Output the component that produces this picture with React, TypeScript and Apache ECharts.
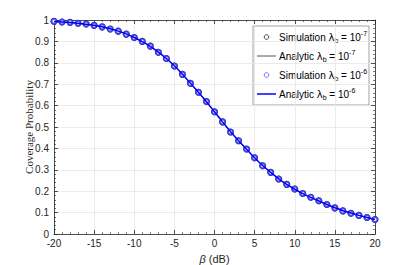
import React, { useEffect, useRef } from "react";
import * as echarts from "echarts";

const betaDb: number[] = [
  -20, -19, -18, -17, -16, -15, -14, -13, -12, -11, -10, -9, -8, -7, -6, -5, -4, -3, -2, -1,
  0, 1, 2, 3, 4, 5, 6, 7, 8, 9, 10, 11, 12, 13, 14, 15, 16, 17, 18, 19, 20,
];

const analyticLow: number[] = [
  0.993, 0.991, 0.988, 0.985, 0.98, 0.975, 0.968, 0.959, 0.948, 0.935, 0.918, 0.899, 0.877, 0.85, 0.82,
  0.786, 0.747, 0.705, 0.662, 0.618, 0.571, 0.524, 0.478, 0.436, 0.396, 0.356, 0.32, 0.288, 0.258, 0.232,
  0.209, 0.189, 0.171, 0.154, 0.138, 0.123, 0.109, 0.098, 0.087, 0.077, 0.068,
];
const analyticHigh: number[] = [...analyticLow];
const simLow: number[] = [
  0.994, 0.991, 0.989, 0.985, 0.981, 0.975, 0.968, 0.958, 0.948, 0.934, 0.918, 0.9, 0.878, 0.849, 0.82,
  0.785, 0.746, 0.704, 0.662, 0.619, 0.571, 0.524, 0.477, 0.436, 0.397, 0.356, 0.319, 0.288, 0.257, 0.232,
  0.21, 0.189, 0.172, 0.155, 0.138, 0.122, 0.108, 0.097, 0.087, 0.077, 0.068,
];
const simHigh: number[] = [...simLow];

const seriesNames: string[] = [
  "Simulation λb = 10^-7",
  "Analytic λb = 10^-7",
  "Simulation λb = 10^-6",
  "Analytic λb = 10^-6",
];
const legendRich: string[] = [
  "{t|Simulation }{l|λ}{s|b}{t| = 10}{p|-7}",
  "{t|Analytic }{l|λ}{s|b}{t| = 10}{p|-7}",
  "{t|Simulation }{l|λ}{s|b}{t| = 10}{p|-6}",
  "{t|Analytic }{l|λ}{s|b}{t| = 10}{p|-6}",
];

const xTitle = "{i|β} (dB)";
const yTitle = "Coverage Probability";

const pairs = (ys: number[]) => betaDb.map((x, i) => [x, ys[i]]);

export default function App() {
  const ref = useRef<HTMLDivElement>(null);
  useEffect(() => {
    if (!ref.current) return;
    const chart = echarts.init(ref.current, undefined, { renderer: "svg" });
    const axisColor = "#262626";
    const sans = "Liberation Sans, Arial, sans-serif";
    const labelFont = { fontFamily: sans, fontSize: 10, color: axisColor };
    const tickCommon = {
      axisLine: { show: true, onZero: false, lineStyle: { color: axisColor, width: 0.8 } },
      axisTick: { show: true, inside: true, length: 4, lineStyle: { color: axisColor, width: 0.8 } },
      minorTick: { show: true, splitNumber: 5, length: 2, lineStyle: { color: axisColor, width: 0.6 } },
    };
    const rich = {
      t: { fontSize: 10, lineHeight: 14, fontFamily: sans, fill: "#000", color: "#000" },
      l: { fontSize: 10, lineHeight: 14, fontFamily: "DejaVu Sans, sans-serif", fill: "#000", color: "#000" },
      s: { fontSize: 7, lineHeight: 7, verticalAlign: "bottom", fontFamily: sans, fill: "#000", color: "#000" },
      p: { fontSize: 7, lineHeight: 7, verticalAlign: "top", fontFamily: sans, fill: "#000", color: "#000" },
    };
    const lx = 253, ly = 26, lw = 116, lh = 79;
    const rowY = [37, 56, 75, 94];
    const legendChildren: any[] = [
      { type: "rect", shape: { x: lx, y: ly, width: lw, height: lh }, style: { fill: "#fff", stroke: "#8c8c8c", lineWidth: 0.8 } },
      { type: "circle", shape: { cx: 266.5, cy: rowY[0], r: 2.3 }, style: { fill: "none", stroke: "#000", lineWidth: 0.7 } },
      { type: "line", shape: { x1: 257, y1: rowY[1], x2: 276, y2: rowY[1] }, style: { stroke: "#555", lineWidth: 1 } },
      { type: "circle", shape: { cx: 266.5, cy: rowY[2], r: 2.3 }, style: { fill: "none", stroke: "#3a3aff", lineWidth: 0.7 } },
      { type: "line", shape: { x1: 257, y1: rowY[3], x2: 276, y2: rowY[3] }, style: { stroke: "#0000ff", lineWidth: 1.5 } },
    ];
    legendRich.forEach((txt, i) => {
      legendChildren.push({
        type: "text",
        style: { x: 279, y: rowY[i], text: txt, rich, verticalAlign: "middle", align: "left", font: "10px " + sans },
      });
    });
    chart.setOption({
      animation: false,
      backgroundColor: "#ffffff",
      grid: { left: 54, right: 40, top: 20, bottom: 31, containLabel: false, outerBoundsMode: "none" },
      legend: { show: false, data: seriesNames },
      graphic: [{ type: "group", z: 100, children: legendChildren }],
      xAxis: [
        {
          type: "value",
          min: -20,
          max: 20,
          interval: 5,
          position: "bottom",
          name: xTitle,
          nameLocation: "middle",
          nameGap: 19,
          nameMoveOverlap: false,
          nameTextStyle: {
            fontFamily: sans,
            fontSize: 11,
            color: axisColor,
            rich: {
              i: { fontStyle: "italic", fontSize: 11, fontFamily: sans, color: axisColor },
            },
          },
          axisLabel: { ...labelFont, margin: 4 },
          splitLine: { show: true, lineStyle: { color: "#e6e6e6", width: 0.8 } },
          ...tickCommon,
        },
        {
          type: "value",
          min: -20,
          max: 20,
          interval: 5,
          position: "top",
          axisLabel: { show: false },
          splitLine: { show: false },
          ...tickCommon,
        },
      ],
      yAxis: [
        {
          type: "value",
          min: 0,
          max: 1,
          interval: 0.1,
          position: "left",
          name: yTitle,
          nameLocation: "middle",
          nameGap: 20,
          nameMoveOverlap: false,
          nameTextStyle: { fontFamily: "Liberation Serif, Times New Roman, serif", fontSize: 11, color: axisColor },
          axisLabel: { ...labelFont, margin: 5, formatter: (v: number) => String(Math.round(v * 10) / 10) },
          splitLine: { show: true, lineStyle: { color: "#e6e6e6", width: 0.8 } },
          ...tickCommon,
        },
        {
          type: "value",
          min: 0,
          max: 1,
          interval: 0.1,
          position: "right",
          axisLabel: { show: false },
          splitLine: { show: false },
          ...tickCommon,
        },
      ],
      series: [
        {
          name: seriesNames[0],
          type: "scatter",
          data: pairs(simLow),
          symbol: "emptyCircle",
          symbolSize: 5,
          itemStyle: { color: "#000000", borderColor: "#000000", borderWidth: 0.7 },
          z: 2,
        },
        {
          name: seriesNames[1],
          type: "line",
          data: pairs(analyticLow),
          symbol: "none",
          smooth: 0.3,
          lineStyle: { color: "#555555", width: 1 },
          z: 3,
        },
        {
          name: seriesNames[2],
          type: "scatter",
          data: pairs(simHigh),
          symbol: "emptyCircle",
          symbolSize: 5,
          itemStyle: { color: "#3a3aff", borderColor: "#3a3aff", borderWidth: 0.7 },
          z: 4,
        },
        {
          name: seriesNames[3],
          type: "line",
          data: pairs(analyticHigh),
          symbol: "none",
          smooth: 0.3,
          lineStyle: { color: "#0000ff", width: 1.5 },
          z: 5,
        },
      ],
    });
    return () => chart.dispose();
  }, []);
  return (
    <div
      ref={ref}
      style={{ position: "fixed", left: 0, top: 0, width: 415, height: 265, background: "#fff" }}
    />
  );
}
